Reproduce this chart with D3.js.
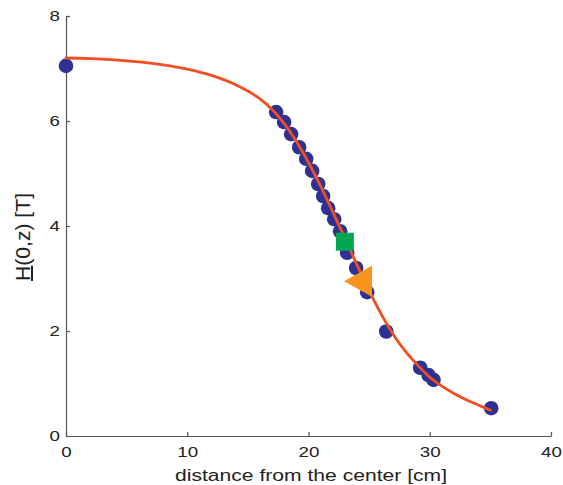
<!DOCTYPE html>
<html lang="en">
<head>
    <meta charset="UTF-8">
    <title>H(0,z) vs distance</title>
    <script src="https://d3js.org/d3.v7.min.js"></script>
    <style>
        body { margin: 0; background: #fff; }
        .axis text { font-family: "Liberation Sans", Arial, sans-serif; font-size: 15px; fill: #222; }
        .axis path, .axis line { stroke: #555; stroke-width: 1.2px; }
        .label { font-family: "Liberation Sans", Arial, sans-serif; fill: #222; }
    </style>
</head>
<body>
<svg width="563" height="485"></svg>
<script>
    // measured points (blue dots)
    const ptX = [0, 17.33, 17.99, 18.57, 19.23, 19.81, 20.30, 20.80, 21.21, 21.62, 22.12, 22.61,
                 23.19, 23.93, 24.84, 26.41, 29.21, 29.90, 30.31, 35.07];
    const ptY = [7.05, 6.17, 5.98, 5.75, 5.50, 5.28, 5.05, 4.80, 4.57, 4.34, 4.13, 3.90,
                 3.49, 3.20, 2.74, 1.99, 1.30, 1.16, 1.07, 0.53];

    // fitted curve (red line)
    const curveX = [0, 2, 4, 6, 8, 10, 12, 14, 16, 17, 18, 19, 20, 21, 22, 23, 24, 25,
                    26, 27, 28, 29, 30, 31, 32, 33, 34, 35];
    const curveY = [7.20, 7.19, 7.165, 7.125, 7.07, 6.99, 6.87, 6.69, 6.42, 6.22, 5.95, 5.61, 5.21, 4.76, 4.27, 3.77, 3.26, 2.77,
                    2.32, 1.93, 1.61, 1.35, 1.12, 0.95, 0.81, 0.69, 0.59, 0.49];

    // special markers
    const squarePt = [23.0, 3.70];
    const trianglePt = [24.08, 2.95];

    const xTicks = [0, 10, 20, 30, 40];
    const yTicks = [0, 2, 4, 6, 8];

    const svg = d3.select("svg");
    const x = d3.scaleLinear().domain([0, 40]).range([66, 551]);
    const y = d3.scaleLinear().domain([0, 8]).range([436, 16]);

    // axes, ticks pointing inwards
    svg.append("g").attr("class", "axis")
        .attr("transform", "translate(0,436)")
        .call(d3.axisBottom(x).tickValues(xTicks).tickSizeInner(-4).tickSizeOuter(0).tickPadding(10));
    svg.append("g").attr("class", "axis")
        .attr("transform", "translate(66,0)")
        .call(d3.axisLeft(y).tickValues(yTicks).tickSizeInner(-4).tickSizeOuter(0).tickPadding(6));

    // the reference glyphs are wider than normal
    svg.selectAll(".axis text").each(function () {
        const w = this.getComputedTextLength();
        d3.select(this).attr("textLength", w * 1.25).attr("lengthAdjust", "spacingAndGlyphs");
    });

    // blue dots
    svg.append("g").selectAll("circle")
        .data(ptX.map((d, i) => [d, ptY[i]]))
        .enter().append("circle")
        .attr("cx", d => x(d[0]))
        .attr("cy", d => y(d[1]))
        .attr("r", 7.3)
        .attr("fill", "#2e3192");

    // curve
    const line = d3.line()
        .x(d => x(d[0]))
        .y(d => y(d[1]))
        .curve(d3.curveMonotoneX);
    svg.append("path")
        .datum(curveX.map((d, i) => [d, curveY[i]]))
        .attr("d", line)
        .attr("fill", "none")
        .attr("stroke", "#f04e23")
        .attr("stroke-width", 2.8)
        .attr("stroke-linecap", "round");

    // green square
    svg.append("rect")
        .attr("x", x(squarePt[0]) - 9)
        .attr("y", y(squarePt[1]) - 9)
        .attr("width", 18).attr("height", 18)
        .attr("fill", "#00a651");

    // orange left-pointing triangle
    svg.append("path")
        .attr("transform", `translate(${x(trianglePt[0])},${y(trianglePt[1])})`)
        .attr("d", "M-14,0L14,-15.5L14,15.5Z")
        .attr("fill", "#f7941d");

    // axis labels
    svg.append("text").attr("class", "label")
        .attr("x", 311).attr("y", 481)
        .attr("text-anchor", "middle")
        .attr("font-size", 16)
        .attr("textLength", 272).attr("lengthAdjust", "spacingAndGlyphs")
        .text("distance from the center [cm]");

    const yl = svg.append("text").attr("class", "label")
        .attr("transform", "translate(30,237) rotate(-90)")
        .attr("text-anchor", "middle")
        .attr("font-size", 20)
        .attr("textLength", 88).attr("lengthAdjust", "spacingAndGlyphs");
    yl.append("tspan").attr("text-decoration", "underline").text("H");
    yl.append("tspan").text("(0,z) [T]");
</script>
</body>
</html>
